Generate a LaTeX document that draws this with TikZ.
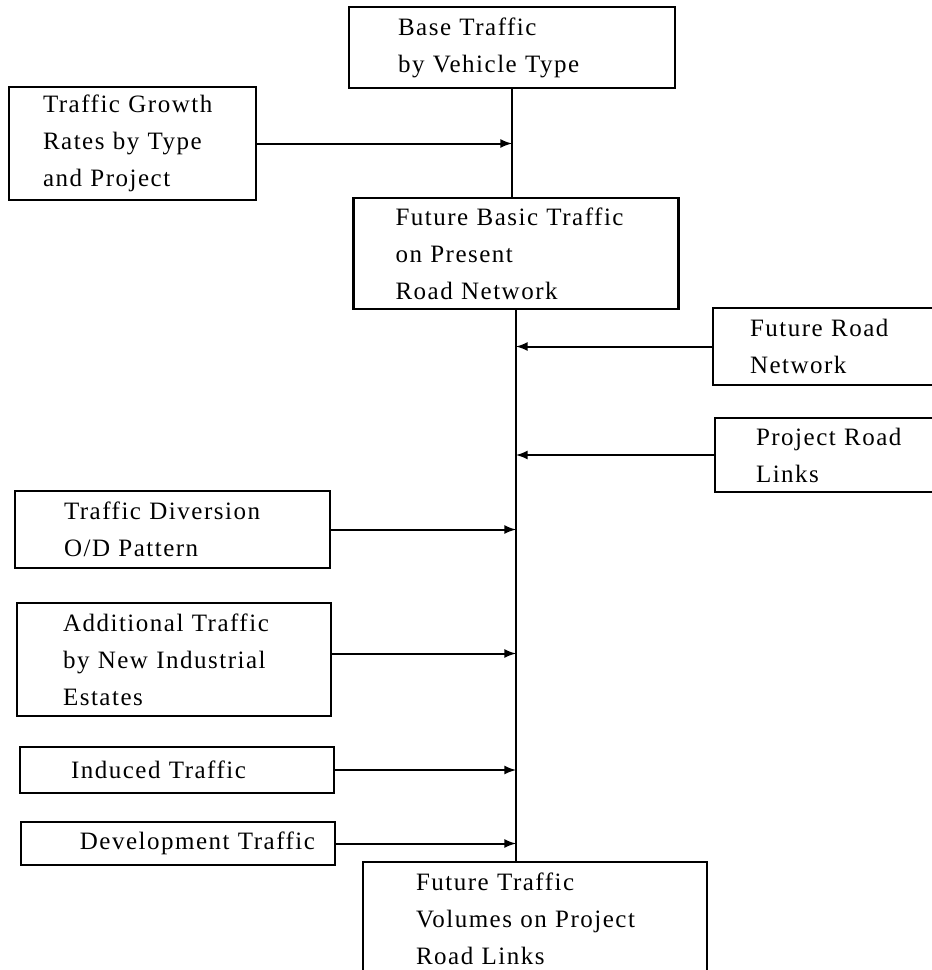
\documentclass[tikz,border=0pt]{standalone}
\usepackage{fontspec}
\setmainfont[LetterSpace=6]{Liberation Serif}
\usepackage{tikz}
\usetikzlibrary{positioning,arrows}

\begin{document}
\begin{tikzpicture}[x=0.5pt, y=-0.5pt]
  % ---- page of the scan (0,0 is top left) ----------------------
  \useasboundingbox (0,0) rectangle (932,970);
  \clip (0,0) rectangle (932,970);

  \tikzstyle{box}=[draw, rectangle, line width=1.3pt, inner xsep=0pt,
                   inner ysep=0pt, align=left,
                   font={\fontsize{12.5}{18.5}\selectfont}]
  \tikzstyle{feed}=[line width=1pt, -latex]
  \tikzstyle{spine}=[line width=1pt]

  % ---- main column --------------------------------------------
  \node[box, minimum width=163pt, minimum height=40.5pt, text width=114pt]
    (base)   at (512,47.5)  {Base Traffic\\by Vehicle Type};
  \node[box, minimum width=162.5pt, minimum height=55.5pt, text width=120.5pt]
    (fbasic) at (516,253.5) {Future Basic Traffic\\on Present\\Road Network};
  \node[box, minimum width=172pt, minimum height=57pt, text width=119pt]
    (future) at (535,919)   {Future Traffic\\Volumes on Project\\Road Links};

  % ---- inputs on the left -------------------------------------
  \node[box, minimum width=123.5pt, minimum height=56.5pt, text width=89.5pt]
    (growth)  at (132.5,143.5) {Traffic Growth\\Rates by Type\\and Project};
  \node[box, minimum width=157.5pt, minimum height=38.5pt, text width=108.5pt]
    (divers)  at (172.5,529.5) {Traffic Diversion\\O/D Pattern};
  \node[box, minimum width=157pt, minimum height=56.5pt, text width=111pt]
    (addit)   at (174,659.5)   {Additional Traffic\\by New Industrial\\Estates};
  \node[box, minimum width=157pt, minimum height=23pt, text width=106pt]
    (induced) at (177,770)     {Induced Traffic};
  \node[box, minimum width=157pt, minimum height=21.5pt, text width=137pt,
        align=right]
    (devel)   at (178,843.5)   {Development Traffic};

  % ---- inputs on the right (cut by the page edge) -------------
  \node[box, minimum width=130pt, minimum height=38.5pt, text width=93pt]
    (froad) at (843,346.5) {Future Road\\Network};
  \node[box, minimum width=130pt, minimum height=37pt, text width=89pt]
    (proad) at (845,455)   {Project Road\\Links};

  % ---- vertical flow ------------------------------------------
  \draw[spine] (base.south) -- (base.south |- fbasic.north);
  \draw[spine] (fbasic.south) -- (fbasic.south |- future.north);

  % ---- feeding arrows -----------------------------------------
  \draw[feed] (growth.east)  -- (growth.east -| base.south);
  \draw[feed] (froad.west)   -- (froad.west -| fbasic.south);
  \draw[feed] (proad.west)   -- (proad.west -| fbasic.south);
  \draw[feed] (divers.east)  -- (divers.east -| fbasic.south);
  \draw[feed] ([yshift=3pt]addit.east) -- ([yshift=3pt]addit.east -| fbasic.south);
  \draw[feed] (induced.east) -- (induced.east -| fbasic.south);
  \draw[feed] (devel.east)   -- (devel.east -| fbasic.south);

\end{tikzpicture}
\end{document}
